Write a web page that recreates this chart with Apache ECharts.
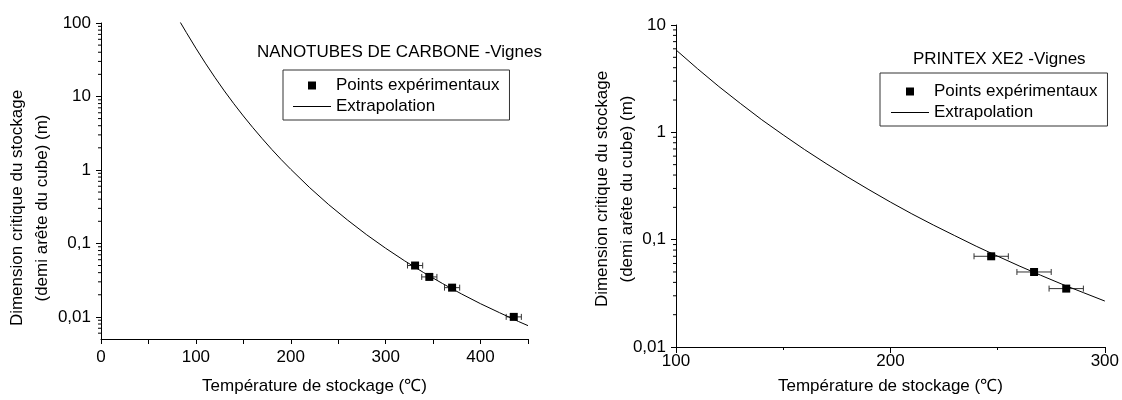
<!DOCTYPE html>
<html><head><meta charset="utf-8">
<script src="https://cdn.jsdelivr.net/npm/echarts@6/dist/echarts.min.js"></script>
<style>html,body{margin:0;padding:0;background:#fff}#c{width:1122px;height:400px}</style>
</head><body><div id="c"></div>
<script>
// ---------- texts ----------
const leftTitle = 'NANOTUBES DE CARBONE -Vignes';
const rightTitle = 'PRINTEX XE2 -Vignes';
const nameMarks = 'Points expérimentaux';
const nameCurve = 'Extrapolation';
const xName = 'Température de stockage (℃)';
const yName = 'Dimension critique du stockage\n(demi arête du cube) (m)';

// ---------- left chart data (nanotubes) ----------
const leftPointsT = [331, 346, 370, 435];
const leftPointsR = [0.05, 0.035, 0.025, 0.01];
const leftErrT = [8, 8, 8, 8];
const leftCurveT = [80, 84, 90, 100, 110, 120, 130, 140, 150, 160, 170, 180, 190, 200, 220, 240, 260, 280, 300, 320, 340, 360, 380, 400, 420, 440, 450];
const leftCurveR = [125, 100, 74, 45.4, 28.4, 18.2, 11.9, 7.96, 5.43, 3.77, 2.66, 1.90, 1.38, 1.02, 0.573, 0.337, 0.207, 0.131, 0.0859, 0.0579, 0.0401, 0.0284, 0.0205, 0.0151, 0.0114, 0.00865, 0.0076];
const leftXLabels = [0, 100, 200, 300, 400];
const leftMinorY = [0.006, 0.007, 0.008, 0.009, 0.02, 0.03, 0.04, 0.05, 0.06, 0.07, 0.08, 0.09, 0.2, 0.3, 0.4, 0.5, 0.6, 0.7, 0.8, 0.9, 2, 3, 4, 5, 6, 7, 8, 9, 20, 30, 40, 50, 60, 70, 80, 90];

// ---------- right chart data (Printex) ----------
const rightPointsT = [247, 267, 282];
const rightPointsR = [0.07, 0.05, 0.035];
const rightErrT = [8, 8, 8];
const rightCurveT = [100, 110, 120, 130, 140, 150, 160, 170, 180, 190, 200, 210, 220, 230, 240, 250, 260, 270, 280, 290, 300];
const rightCurveR = [5.86, 3.92, 2.67, 1.86, 1.31, 0.946, 0.690, 0.512, 0.384, 0.292, 0.224, 0.174, 0.137, 0.109, 0.0869, 0.0702, 0.0570, 0.0467, 0.0385, 0.0321, 0.0268];
const rightXLabels = [100, 200, 300];
const rightMinorY = [0.02, 0.03, 0.04, 0.05, 0.06, 0.07, 0.08, 0.09, 0.2, 0.3, 0.4, 0.5, 0.6, 0.7, 0.8, 0.9, 2, 3, 4, 5, 6, 7, 8, 9];

const FONT = 'Liberation Sans, Arial, Helvetica, sans-serif';
const FS = 17;

function logLabel(v) {
  const e = Math.round(Math.log10(v));
  if (e >= 0) return String(Math.pow(10, e));
  return '0,' + '0'.repeat(-e - 1) + '1';
}
function zip3(a, b, c) { return a.map((v, i) => c ? [v, b[i], c[i]] : [v, b[i]]); }

function errRender(params, api) {
  const x = api.value(0), y = api.value(1), e = api.value(2);
  const a = api.coord([x - e, y]), b = api.coord([x + e, y]);
  const c = 3;
  const st = { stroke: '#333', lineWidth: 1 };
  return { type: 'group', children: [
    { type: 'line', shape: { x1: a[0], y1: a[1], x2: b[0], y2: b[1] }, style: st },
    { type: 'line', shape: { x1: a[0], y1: a[1] - c, x2: a[0], y2: a[1] + c }, style: st },
    { type: 'line', shape: { x1: b[0], y1: b[1] - c, x2: b[0], y2: b[1] + c }, style: st }
  ]};
}
function minorRender(params, api) {
  const p = api.coord([api.value(0), api.value(1)]);
  return { type: 'line', shape: { x1: p[0] - 3, y1: p[1], x2: p[0], y2: p[1] }, style: { stroke: '#000', lineWidth: 1 } };
}

const axisCommon = {
  axisLine: { lineStyle: { color: '#000', width: 1 } },
  axisTick: { length: 5, lineStyle: { color: '#000', width: 1 } },
  splitLine: { show: false },
  axisLabel: { color: '#000', fontSize: FS, fontFamily: FONT }
};

const chart = echarts.init(document.getElementById('c'), null, { renderer: 'canvas' });
const legendData = [
  { name: nameMarks, icon: 'path://M0,0h10v10h-10z', itemStyle: { color: '#000', opacity: 1 } },
  { name: nameCurve, icon: 'path://M0,0h38v1h-38z', itemStyle: { color: '#000', opacity: 1 } }
];
function legendAt(left, top, pad) {
  return {
    data: legendData, left: left, top: top, orient: 'vertical',
    itemWidth: 38, itemHeight: 8, itemGap: 4, padding: pad,
    borderColor: '#333', borderWidth: 1, selectedMode: false,
    textStyle: { color: '#000', fontSize: FS, fontFamily: FONT },
    symbolKeepAspect: true
  };
}

chart.setOption({
  animation: false,
  backgroundColor: '#fff',
  title: [
    { text: leftTitle, left: 257, top: 44, padding: 0, textStyle: { fontSize: FS, fontWeight: 'normal', color: '#000', fontFamily: FONT } },
    { text: rightTitle, left: 913, top: 51, padding: 0, textStyle: { fontSize: FS, fontWeight: 'normal', color: '#000', fontFamily: FONT } }
  ],
  legend: [legendAt(283, 70, [7, 10, 5, 10]), legendAt(880, 73, [10, 10, 5, 11])],
  grid: [
    { left: 101, top: 23, width: 427, height: 322 },
    { left: 676, top: 25, width: 431, height: 328 }
  ],
  xAxis: [
    Object.assign({}, axisCommon, {
      gridIndex: 0, type: 'value', min: 0, max: 450, interval: 50,
      name: xName, nameLocation: 'middle', nameGap: 39,
      nameTextStyle: { color: '#000', fontSize: FS, fontFamily: FONT },
      axisTick: { length: 5, lineStyle: { color: '#000' } },
      axisLabel: { color: '#000', fontSize: FS, fontFamily: FONT, margin: 10,
        formatter: v => leftXLabels.indexOf(v) >= 0 ? String(v) : '' }
    }),
    Object.assign({}, axisCommon, {
      gridIndex: 1, type: 'value', min: 100, max: 300, interval: 100,
      name: xName, nameLocation: 'middle', nameGap: 31,
      nameTextStyle: { color: '#000', fontSize: FS, fontFamily: FONT },
      axisTick: { length: 6, lineStyle: { color: '#000' } },
      minorTick: { show: true, splitNumber: 2, length: 3, lineStyle: { color: '#000' } },
      axisLabel: { color: '#000', fontSize: FS, fontFamily: FONT, margin: 6,
        formatter: v => rightXLabels.indexOf(v) >= 0 ? String(v) : '' }
    })
  ],
  yAxis: [
    Object.assign({}, axisCommon, {
      gridIndex: 0, type: 'log', logBase: 10, min: 0.005, max: 100,
      axisLabel: { color: '#000', fontSize: FS, fontFamily: FONT, margin: 10, showMinLabel: false, formatter: logLabel }
    }),
    Object.assign({}, axisCommon, {
      gridIndex: 1, type: 'log', logBase: 10, min: 0.01, max: 10,
      axisLabel: { color: '#000', fontSize: FS, fontFamily: FONT, margin: 10, formatter: logLabel }
    })
  ],
  graphic: [
    { type: 'text', x: 30, y: 208, rotation: Math.PI / 2,
      style: { text: yName, font: FS + 'px ' + FONT, fill: '#000', textAlign: 'center', textVerticalAlign: 'middle', align: 'center', verticalAlign: 'middle', lineHeight: 25 } },
    { type: 'text', x: 615, y: 189, rotation: Math.PI / 2,
      style: { text: yName, font: FS + 'px ' + FONT, fill: '#000', textAlign: 'center', textVerticalAlign: 'middle', align: 'center', verticalAlign: 'middle', lineHeight: 25 } }
  ],
  series: [
    { type: 'custom', xAxisIndex: 0, yAxisIndex: 0, silent: true, clip: false, renderItem: minorRender,
      data: leftMinorY.map(v => [0, v]) },
    { type: 'custom', xAxisIndex: 1, yAxisIndex: 1, silent: true, clip: false, renderItem: minorRender,
      data: rightMinorY.map(v => [100, v]) },
    { name: nameCurve, type: 'line', xAxisIndex: 0, yAxisIndex: 0, symbol: 'none', clip: true,
      lineStyle: { color: '#000', width: 1 }, itemStyle: { color: '#000' },
      data: zip3(leftCurveT, leftCurveR) },
    { name: nameCurve, type: 'line', xAxisIndex: 1, yAxisIndex: 1, symbol: 'none', clip: true,
      lineStyle: { color: '#000', width: 1 }, itemStyle: { color: '#000' },
      data: zip3(rightCurveT, rightCurveR) },
    { type: 'custom', xAxisIndex: 0, yAxisIndex: 0, silent: true, renderItem: errRender, z: 3,
      encode: { x: 0, y: 1 }, data: zip3(leftPointsT, leftPointsR, leftErrT) },
    { type: 'custom', xAxisIndex: 1, yAxisIndex: 1, silent: true, renderItem: errRender, z: 3,
      encode: { x: 0, y: 1 }, data: zip3(rightPointsT, rightPointsR, rightErrT) },
    { name: nameMarks, type: 'scatter', xAxisIndex: 0, yAxisIndex: 0, symbol: 'rect', symbolSize: 8, z: 4,
      itemStyle: { color: '#000', opacity: 1 }, data: zip3(leftPointsT, leftPointsR) },
    { name: nameMarks, type: 'scatter', xAxisIndex: 1, yAxisIndex: 1, symbol: 'rect', symbolSize: 8, z: 4,
      itemStyle: { color: '#000', opacity: 1 }, data: zip3(rightPointsT, rightPointsR) }
  ]
});
</script></body></html>
